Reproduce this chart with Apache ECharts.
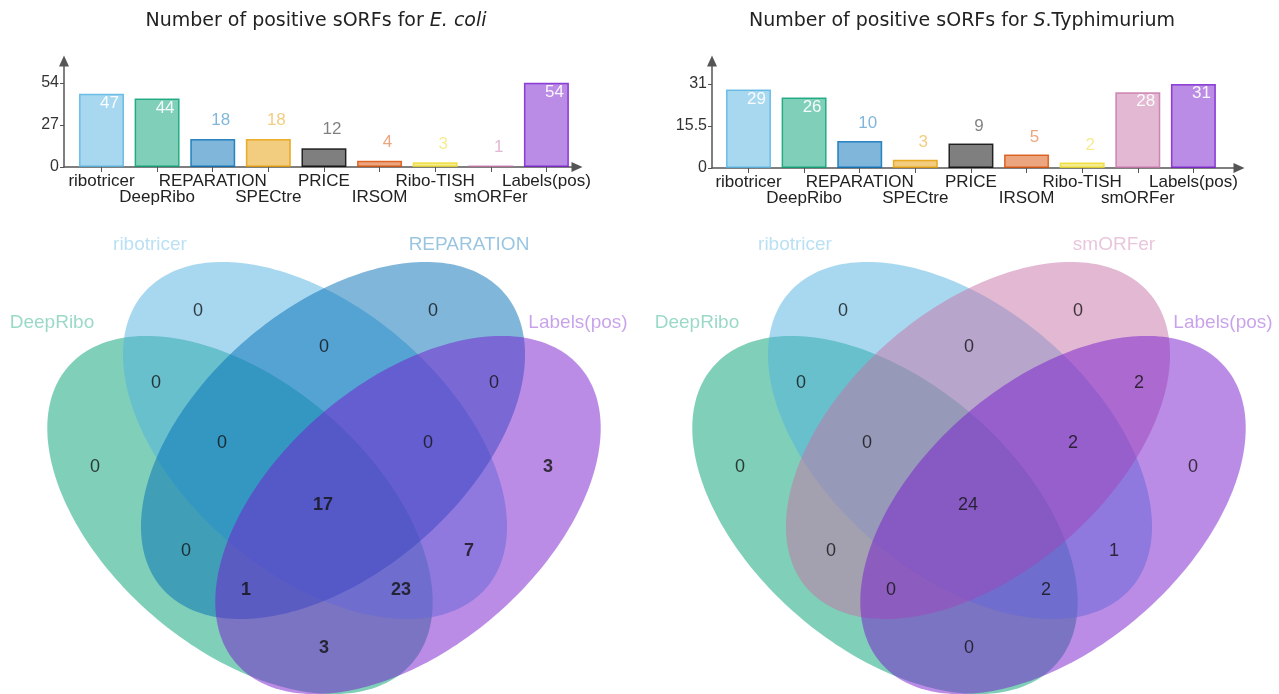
<!DOCTYPE html>
<html>
<head>
<meta charset="utf-8">
<script src="https://cdn.jsdelivr.net/npm/echarts@6/dist/echarts.min.js"></script>
<style>
  html, body { margin: 0; padding: 0; background: #ffffff; }
  #chart { width: 1279px; height: 694px; }
</style>
</head>
<body>
<div id="chart"></div>
<script>
// ---------------- data ----------------
const TOOLS = ['ribotricer', 'DeepRibo', 'REPARATION', 'SPECtre', 'PRICE', 'IRSOM', 'Ribo-TISH', 'smORFer', 'Labels(pos)'];

const ECOLI_COUNTS = [47, 44, 18, 18, 12, 4, 3, 1, 54];
const ECOLI_TICKS = [0, 27, 54];

const STYPH_COUNTS = [29, 26, 10, 3, 9, 5, 2, 28, 31];
const STYPH_TICKS = [0, 15.5, 31];

// four-set Venn: set order is A, B, C, D
const ECOLI_SETS = ['DeepRibo', 'ribotricer', 'REPARATION', 'Labels(pos)'];
const STYPH_SETS = ['DeepRibo', 'ribotricer', 'smORFer', 'Labels(pos)'];

// region membership keys (A B C D)
const REGION_KEYS = ['1000', '0100', '0010', '0001', '1100', '0110', '0011', '1110', '0111', '1111', '1010', '0101', '1011', '1101', '1001'];
const ECOLI_REGIONS = [0, 0, 0, 3, 0, 0, 0, 0, 0, 17, 0, 7, 1, 23, 3];
const STYPH_REGIONS = [0, 0, 0, 0, 0, 0, 2, 0, 2, 24, 0, 1, 0, 2, 0];

// ---------------- styling ----------------
const TOOL_COLORS = {
  'ribotricer': '81,177,225',
  'DeepRibo': '1,159,113',
  'REPARATION': '0,109,181',
  'SPECtre': '229,155,0',
  'PRICE': '0,0,0',
  'IRSOM': '215,75,0',
  'Ribo-TISH': '235,217,37',
  'smORFer': '197,113,165',
  'Labels(pos)': '117,25,205'
};
const AXIS_COLOR = '#555555';
const SANS = 'Liberation Sans, Arial, sans-serif';

// ---------------- Venn layout (diagram units, y grows downward) ----------------
const VENN_ELLIPSES = [
  { cx: -84, cy: 295,   rx: 227, ry: 133, tilt: 40.7 },
  { cx: -9,  cy: 220.5, rx: 226, ry: 133, tilt: 40.7 },
  { cx: 9,   cy: 220.5, rx: 226, ry: 133, tilt: -40.7 },
  { cx: 84,  cy: 295,   rx: 227, ry: 133, tilt: -40.7 }
];
const REGION_ANCHORS = {
  '1000': [-229, 247], '0100': [-126, 91], '0010': [109, 91], '0001': [224, 247],
  '1100': [-168, 163], '0110': [0, 127], '0011': [170, 163],
  '1110': [-102, 223], '0111': [104, 223], '1111': [-1, 285],
  '1010': [-138, 331], '0101': [145, 331],
  '1011': [-78, 370], '1101': [77, 370], '1001': [0, 428]
};
const SET_NAME_ANCHORS = [[-272, 103], [-174, 25], [145, 25], [254, 103]];

// ---------------- builders ----------------
const ALL_IDX = TOOLS.map((_, i) => i);
const EVEN_IDX = ALL_IDX.filter(i => i % 2 === 0);
const ODD_IDX = ALL_IDX.filter(i => i % 2 === 1);

// main category axis: line, arrow, every tick, first row of names
function barXAxis(gi, min, max) {
  return {
    type: 'value', gridIndex: gi, min: min, max: max, position: 'bottom',
    axisLine: { show: true, onZero: false, symbol: ['none', 'triangle'], symbolSize: [10, 11],
      lineStyle: { color: AXIS_COLOR, width: 1.5 } },
    axisTick: { show: true, customValues: ALL_IDX, length: 5, lineStyle: { color: AXIS_COLOR, width: 1 } },
    axisLabel: { show: true, customValues: EVEN_IDX, margin: 6, color: '#222', fontSize: 17, lineHeight: 16,
      fontFamily: SANS, showMinLabel: true, showMaxLabel: true, hideOverlap: false,
      formatter: v => TOOLS[Math.round(v)] },
    splitLine: { show: false }
  };
}
// companion axis carrying the staggered second row of names
function barXAxisRow2(gi, min, max) {
  return {
    type: 'value', gridIndex: gi, min: min, max: max, position: 'bottom',
    axisLine: { show: false, onZero: false }, axisTick: { show: false },
    axisLabel: { show: true, customValues: ODD_IDX, margin: 22, color: '#222', fontSize: 17, lineHeight: 16,
      fontFamily: SANS, showMinLabel: true, showMaxLabel: true, hideOverlap: false,
      formatter: v => TOOLS[Math.round(v)] },
    splitLine: { show: false }
  };
}
function barYAxis(gi, max, ticks) {
  return {
    type: 'value', gridIndex: gi, min: 0, max: max,
    axisLine: { show: true, onZero: false, symbol: ['none', 'triangle'], symbolSize: [10, 11],
      lineStyle: { color: AXIS_COLOR, width: 1.5 } },
    axisTick: { show: true, customValues: ticks, length: 4, lineStyle: { color: AXIS_COLOR, width: 1 } },
    axisLabel: { show: true, customValues: ticks, margin: 5, color: '#333', fontSize: 16, fontFamily: SANS,
      showMinLabel: true, showMaxLabel: true },
    splitLine: { show: false }
  };
}
function barSeries(counts, xi, yi, dist) {
  const maxV = Math.max.apply(null, counts);
  return {
    type: 'bar', xAxisIndex: xi, yAxisIndex: yi, barWidth: 45, silent: true,
    label: { show: true, formatter: p => p.value[1], fontSize: 17, fontFamily: SANS },
    data: counts.map((v, i) => {
      const rgb = TOOL_COLORS[TOOLS[i]];
      const inside = v >= 0.4 * maxV;
      return {
        value: [i, v],
        itemStyle: { color: 'rgba(' + rgb + ',0.5)', borderColor: 'rgba(' + rgb + ',0.8)', borderWidth: 1.5 },
        label: {
          position: inside ? 'insideTop' : 'top', distance: inside ? 1 : dist, offset: [8, 0],
          color: inside ? 'rgba(255,255,255,0.92)' : 'rgba(' + rgb + ',0.5)'
        }
      };
    })
  };
}
function vennAxes(gi, xmax) {
  return {
    x: { type: 'value', gridIndex: gi, min: -324, max: xmax, show: false },
    y: { type: 'value', gridIndex: gi, min: 0, max: 474, inverse: true, show: false }
  };
}
function vennEllipses(sets, xi, yi) {
  return {
    type: 'custom', xAxisIndex: xi, yAxisIndex: yi, silent: true, clip: false,
    data: sets.map((_, i) => [i, i]),
    renderItem: (params, api) => {
      const e = VENN_ELLIPSES[params.dataIndex];
      const rgb = TOOL_COLORS[sets[params.dataIndex]];
      const t = e.tilt * Math.PI / 180, ct = Math.cos(t), st = Math.sin(t);
      const pts = [];
      for (let k = 0; k < 240; k++) {
        const p = 2 * Math.PI * k / 240;
        const x = e.rx * Math.cos(p), y = e.ry * Math.sin(p);
        pts.push(api.coord([e.cx + x * ct - y * st, e.cy + x * st + y * ct]));
      }
      return { type: 'polygon', shape: { points: pts }, style: { fill: 'rgba(' + rgb + ',0.5)' } };
    }
  };
}
function vennCounts(counts, xi, yi, boldNonZero) {
  return {
    type: 'scatter', xAxisIndex: xi, yAxisIndex: yi, silent: true, symbolSize: 1,
    itemStyle: { color: 'rgba(0,0,0,0)' },
    label: { show: true, position: 'inside', formatter: p => p.value[2], color: '#111',
      fontSize: 18, fontFamily: SANS },
    data: REGION_KEYS.map((k, i) => ({
      value: [REGION_ANCHORS[k][0], REGION_ANCHORS[k][1], counts[i]],
      label: { fontWeight: (boldNonZero && counts[i] > 0) ? 'bold' : 'normal' }
    }))
  };
}
function vennNames(sets, xi, yi) {
  return {
    type: 'scatter', xAxisIndex: xi, yAxisIndex: yi, silent: true, symbolSize: 1,
    itemStyle: { color: 'rgba(0,0,0,0)' },
    label: { show: true, position: 'inside', formatter: p => p.value[2], fontSize: 19, fontFamily: SANS },
    data: sets.map((name, i) => ({
      value: [SET_NAME_ANCHORS[i][0], SET_NAME_ANCHORS[i][1], name],
      label: { color: 'rgba(' + TOOL_COLORS[name] + ',0.5)' }
    }))
  };
}
function titleText(x, plain, italic, after) {
  const rich = {
    n: { fontSize: 19, fontFamily: 'DejaVu Sans', fill: '#222', fontStyle: 'normal' },
    i: { fontSize: 19, fontFamily: 'DejaVu Sans', fill: '#222', fontStyle: 'italic' }
  };
  return {
    type: 'text', x: x, y: 21, silent: true,
    style: {
      text: '{n|' + plain + '}{i|' + italic + '}' + (after ? '{n|' + after + '}' : ''),
      rich: rich, fontSize: 19, fontFamily: 'DejaVu Sans', fill: '#222',
      align: 'center', verticalAlign: 'middle'
    }
  };
}

// ---------------- chart ----------------
const leftVenn = vennAxes(2, 316);
const rightVenn = vennAxes(3, 310);

const option = {
  animation: false,
  backgroundColor: '#ffffff',
  grid: [
    { left: 64, top: 61, width: 513, height: 106 },
    { left: 712, top: 61, width: 527, height: 107 },
    { left: 0, top: 220, width: 640, height: 474 },
    { left: 645, top: 220, width: 634, height: 474 }
  ],
  xAxis: [
    barXAxis(0, -0.674, 8.55),      // 0
    barXAxis(1, -0.656, 8.82),      // 1
    leftVenn.x,                     // 2
    rightVenn.x,                    // 3
    barXAxisRow2(0, -0.674, 8.55),  // 4
    barXAxisRow2(1, -0.656, 8.82)   // 5
  ],
  yAxis: [barYAxis(0, 68, ECOLI_TICKS), barYAxis(1, 39.5, STYPH_TICKS), leftVenn.y, rightVenn.y],
  graphic: [
    titleText(316, 'Number of positive sORFs for ', 'E. coli', ''),
    titleText(962, 'Number of positive sORFs for ', 'S', '.Typhimurium')
  ],
  series: [
    barSeries(ECOLI_COUNTS, 0, 0, 10),
    barSeries(STYPH_COUNTS, 1, 1, 9),
    vennEllipses(ECOLI_SETS, 2, 2),
    vennEllipses(STYPH_SETS, 3, 3),
    vennCounts(ECOLI_REGIONS, 2, 2, true),
    vennCounts(STYPH_REGIONS, 3, 3, false),
    vennNames(ECOLI_SETS, 2, 2),
    vennNames(STYPH_SETS, 3, 3)
  ]
};

const chart = echarts.init(document.getElementById('chart'), null, { renderer: 'canvas' });
chart.setOption(option);
</script>
</body>
</html>
